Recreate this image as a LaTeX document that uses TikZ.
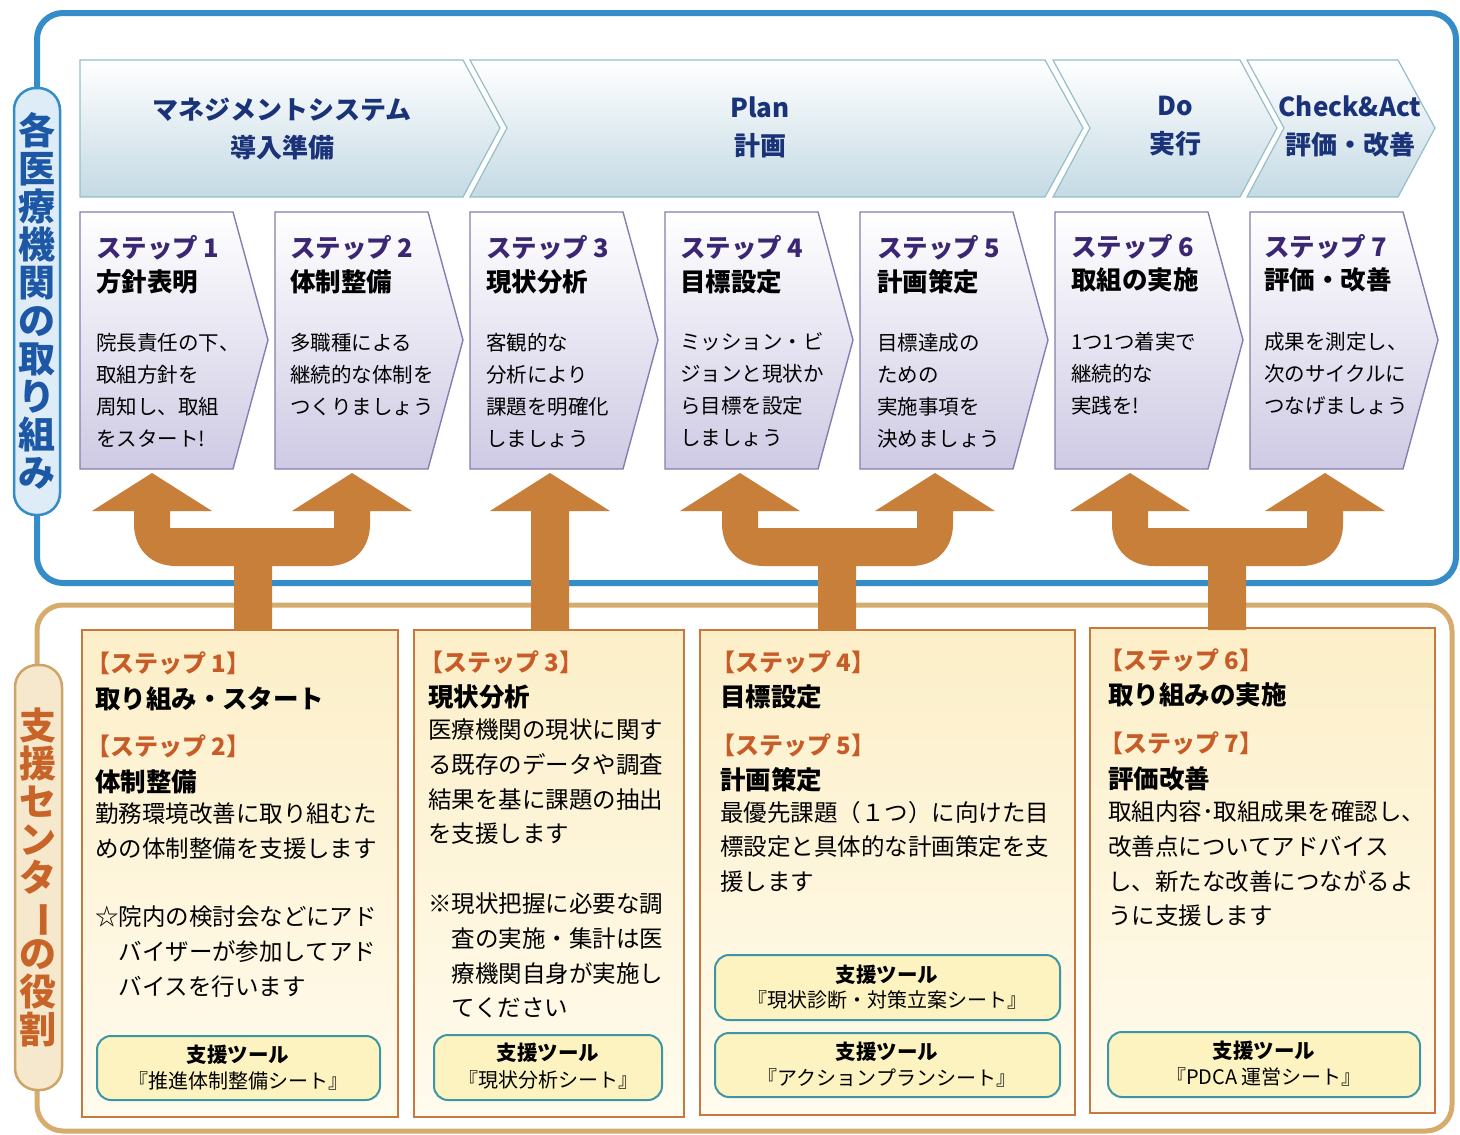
\documentclass[tikz,border=0pt]{standalone}
\usepackage{fontspec}
\setmainfont{Noto Sans CJK JP}
\usepackage{graphicx}
\newcommand\FS[2]{\fontsize{#1}{#2}\selectfont}
\newcommand\vbar{\rotatebox[origin=c]{-90}{ー}}
\definecolor{blueF}{RGB}{52,140,200}
\definecolor{pillBF}{RGB}{222,236,248}
\definecolor{pillBT}{RGB}{28,88,165}
\definecolor{phaseTxt}{RGB}{25,50,120}
\definecolor{phaseBot}{RGB}{196,218,228}
\definecolor{phaseDraw}{RGB}{150,190,200}
\definecolor{stepBot}{RGB}{206,202,228}
\definecolor{stepDraw}{RGB}{135,125,175}
\definecolor{stepHead}{RGB}{58,38,115}
\definecolor{arrowc}{RGB}{200,127,58}
\definecolor{tanF}{RGB}{214,172,108}
\definecolor{tanPF}{RGB}{246,232,204}
\definecolor{tanPD}{RGB}{205,165,105}
\definecolor{tanText}{RGB}{200,100,40}
\definecolor{lowTop}{RGB}{252,239,200}
\definecolor{lowBot}{RGB}{255,251,238}
\definecolor{lowDraw}{RGB}{200,120,60}
\definecolor{orangeH}{RGB}{200,92,40}
\definecolor{toolF}{RGB}{253,243,192}
\definecolor{toolD}{RGB}{60,150,165}
\tikzset{
 phase/.style={top color=white, bottom color=phaseBot, draw=phaseDraw, line width=1.2pt},
 stepbox/.style={top color=white, bottom color=stepBot, draw=stepDraw, line width=1.4pt},
 lowbox/.style={top color=lowTop, bottom color=lowBot, draw=lowDraw, line width=2pt},
 toolbox/.style={rounded corners=14pt, fill=toolF, draw=toolD, line width=2pt},
 phtxt/.style={text=phaseTxt, font=\FS{26}{38}\bfseries, align=center},
 sthead/.style={anchor=west, text=stepHead, font=\FS{25.5}{30}\bfseries},
 sttitle/.style={anchor=west, text=black, font=\FS{25.5}{28}\bfseries},
 stbody/.style={anchor=north west, align=left, font=\FS{20.5}{32}},
 lhead/.style={anchor=west, text=orangeH, font=\FS{24}{26}\bfseries, xshift=-9pt},
 ltitle/.style={anchor=west, font=\FS{25.5}{28}\bfseries},
 lbody/.style={anchor=north west, align=left, font=\FS{23.5}{34.7}},
 tooltitle/.style={font=\FS{20.5}{24}\bfseries},
 tooltxt/.style={font=\FS{20}{24}},
 vlabel/.style={align=center, font=\FS{37}{38}\bfseries},
 arrowfill/.style={fill=arrowc}
}
\newcommand\forkarrow[3]{%
\fill[arrowfill] (#1,473) -- ({#1+60},511) -- ({#1+18},511) -- ({#1+18},528) -- ({#2-18},528) -- ({#2-18},511) -- ({#2-60},511) -- (#2,473) -- ({#2+60},511) -- ({#2+18},511) -- ({#2+18},524) .. controls ({#2+18},548) and ({#2+2},566) .. ({#2-24},566) -- ({#3+19},566) -- ({#3+19},630) -- ({#3-19},630) -- ({#3-19},566) -- ({#1+24},566) .. controls ({#1-2},566) and ({#1-18},548) .. ({#1-18},524) -- ({#1-18},511) -- ({#1-60},511) -- cycle;}
\newcommand\stepshape[1]{%
\path[stepbox] (#1,212) -- ({#1+153},212) -- ({#1+188},340) -- ({#1+153},469) -- (#1,469) -- cycle;}
\begin{document}
\begin{tikzpicture}[x=1pt,y=-1pt, every node/.style={inner sep=0pt, outer sep=0pt}]
\useasboundingbox[fill=white] (0,0) rectangle (1460,1135);
% frames
\draw[blueF, line width=6pt, rounded corners=26pt] (37,583) -- (37,13) -- (1456,13) -- (1456,583) -- cycle;
\draw[tanF, line width=5pt, rounded corners=26pt] (37,1131) -- (37,605) -- (1452,605) -- (1452,1131) -- cycle;
% left pills
\draw[blueF, line width=2.5pt, fill=pillBF, rounded corners=22pt] (14,88) rectangle (60,515);
\node[vlabel, text=pillBT] (lab1) at (37,301) {各\\医\\療\\機\\関\\の\\取\\り\\組\\み};
\draw[tanPD, line width=2.5pt, fill=tanPF, rounded corners=22pt] (15,665) rectangle (62,1090);
\node[vlabel, text=tanText] (lab2) at (38,877) {支\\援\\セ\\ン\\タ\\\vbar\\の\\役\\割};
% phase chevrons
\path[phase] (80,60) -- (463,60) -- (500,128) -- (463,197) -- (80,197) -- cycle;
\path[phase] (470,60) -- (1045,60) -- (1083,128) -- (1045,197) -- (470,197) -- (507,128) -- cycle;
\path[phase] (1053,60) -- (1240,60) -- (1277,128) -- (1240,197) -- (1053,197) -- (1090,128) -- cycle;
\path[phase] (1247,60) -- (1398,60) -- (1435,128) -- (1398,197) -- (1247,197) -- (1284,128) -- cycle;
\node[phtxt] (ph1) at (282,129) {マネジメントシステム\\導入準備};
\node[phtxt] (ph2) at (760,127) {Plan\\計画};
\node[phtxt] (ph3) at (1175,126) {Do\\実行};
\node[phtxt] (ph4) at (1350,126) {Check\&Act\\評価・改善};
% step boxes
\stepshape{80}\stepshape{275}\stepshape{470}\stepshape{665}\stepshape{860}\stepshape{1055}\stepshape{1250}
\node[sthead] (h1) at (96,248) {ステップ 1};
\node[sttitle] (t1) at (96,282) {方針表明};
\node[stbody] (b1) at (96,333) {院長責任の下、\\取組方針を\\周知し、取組\\をスタート!};
\node[sthead] (h2) at (290,248) {ステップ 2};
\node[sttitle] (t2) at (290,282) {体制整備};
\node[stbody] (b2) at (290,333) {多職種による\\継続的な体制を\\つくりましょう};
\node[sthead] (h3) at (486,248) {ステップ 3};
\node[sttitle] (t3) at (486,282) {現状分析};
\node[stbody] (b3) at (486,333) {客観的な\\分析により\\課題を明確化\\しましょう};
\node[sthead] (h4) at (680,248) {ステップ 4};
\node[sttitle] (t4) at (680,282) {目標設定};
\node[stbody] (b4) at (680,333) {ミッション・ビ\\ジョンと現状か\\ら目標を設定\\しましょう};
\node[sthead] (h5) at (877,248) {ステップ 5};
\node[sttitle] (t5) at (877,282) {計画策定};
\node[stbody] (b5) at (877,333) {目標達成の\\ための\\実施事項を\\決めましょう};
\node[sthead] (h6) at (1071,247) {ステップ 6};
\node[sttitle] (t6) at (1071,280) {取組の実施};
\node[stbody] (b6) at (1071,332) {1つ1つ着実で\\継続的な\\実践を!};
\node[sthead] (h7) at (1264,247) {ステップ 7};
\node[sttitle] (t7) at (1264,280) {評価・改善};
\node[stbody] (b7) at (1264,332) {成果を測定し、\\次のサイクルに\\つなげましょう};
% lower boxes
\path[lowbox] (82,630) rectangle (398,1117);
\path[lowbox] (414,630) rectangle (684,1117);
\path[lowbox] (700,630) rectangle (1075,1115);
\path[lowbox] (1090,628) rectangle (1435,1113);
% arrows
\forkarrow{152}{352}{253}
\fill[arrowfill] (550,473) -- (610,511) -- (569,511) -- (569,630) -- (531,630) -- (531,511) -- (490,511) -- cycle;
\forkarrow{740}{935}{837}
\forkarrow{1130}{1325}{1227}
% box A
\node[lhead] (a1) at (95,663) {【ステップ 1】};
\node[ltitle] (a2) at (95,699) {取り組み・スタート};
\node[lhead] (a3) at (95,746) {【ステップ 2】};
\node[ltitle] (a4) at (95,782) {体制整備};
\node[lbody] (a5) at (95,803) {勤務環境改善に取り組むた\\めの体制整備を支援します};
\node[lbody] (a6) at (95,906) {☆院内の検討会などにアド\\\hspace*{1em}バイザーが参加してアド\\\hspace*{1em}バイスを行います};
\draw[toolbox] (97,1036) rectangle (380,1100);
\node[tooltitle] (a7) at (238,1055) {支援ツール};
\node[tooltxt] (a8) at (238,1081) {『推進体制整備シート』};
% box B
\node[lhead] (bb1) at (428,662) {【ステップ 3】};
\node[ltitle] (bb2) at (428,697) {現状分析};
\node[lbody] (bb3) at (428,719) {医療機関の現状に関す\\る既存のデータや調査\\結果を基に課題の抽出\\を支援します};
\node[lbody] (bb4) at (428,893) {※現状把握に必要な調\\\hspace*{1em}査の実施・集計は医\\\hspace*{1em}療機関自身が実施し\\\hspace*{1em}てください};
\draw[toolbox] (434,1035) rectangle (662,1100);
\node[tooltitle] (bb5) at (548,1053) {支援ツール};
\node[tooltxt] (bb6) at (548,1080) {『現状分析シート』};
% box C
\node[lhead] (c1) at (720,662) {【ステップ 4】};
\node[ltitle] (c2) at (720,697) {目標設定};
\node[lhead] (c3) at (720,745) {【ステップ 5】};
\node[ltitle] (c4) at (720,780) {計画策定};
\node[lbody] (c5) at (720,801) {最優先課題（１つ）に向けた目\\標設定と具体的な計画策定を支\\援します};
\draw[toolbox] (715,955) rectangle (1060,1020);
\node[tooltitle] (c6) at (887,975) {支援ツール};
\node[tooltxt] (c7) at (887,1000) {『現状診断・対策立案シート』};
\draw[toolbox] (715,1033) rectangle (1060,1097);
\node[tooltitle] (c8) at (887,1052) {支援ツール};
\node[tooltxt] (c9) at (887,1078) {『アクションプランシート』};
% box D
\node[lhead] (d1) at (1108,660) {【ステップ 6】};
\node[ltitle] (d2) at (1108,695) {取り組みの実施};
\node[lhead] (d3) at (1108,743) {【ステップ 7】};
\node[ltitle] (d4) at (1108,779) {評価改善};
\node[lbody] (d5) at (1108,801) {取組内容･取組成果を確認し、\\改善点についてアドバイス\\し、新たな改善につながるよ\\うに支援します};
\draw[toolbox] (1108,1032) rectangle (1420,1097);
\node[tooltitle] (d6) at (1264,1051) {支援ツール};
\node[tooltxt] (d7) at (1264,1077) {『PDCA 運営シート』};
\end{tikzpicture}
\end{document}
